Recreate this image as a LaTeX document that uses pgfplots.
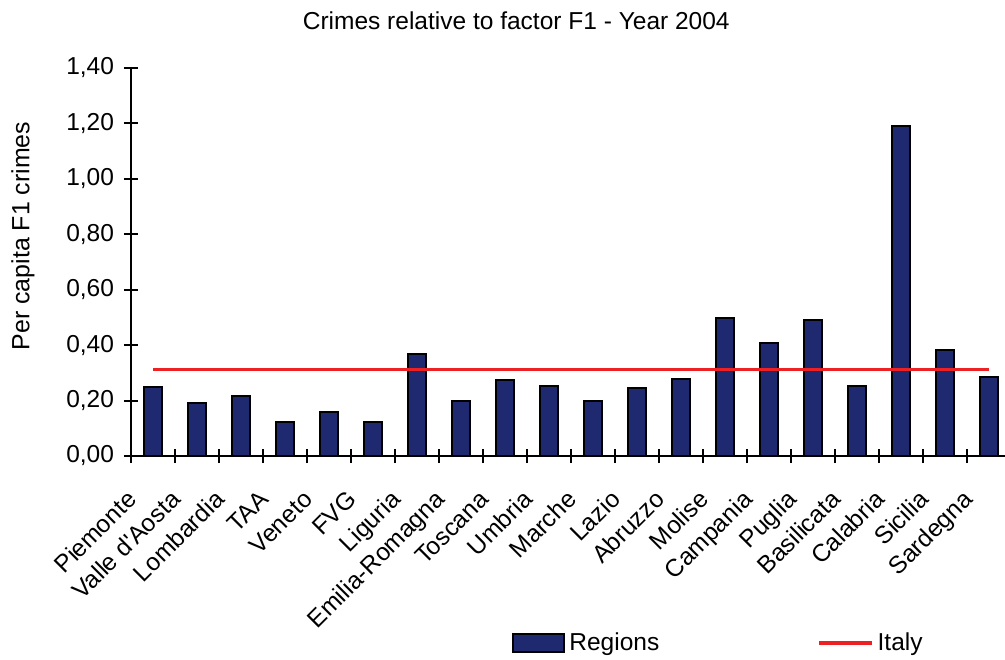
\documentclass[border=0pt]{standalone}
\usepackage{pgfplots}
\pgfplotsset{compat=1.18}
\usepackage{fontspec}
\setmainfont{Liberation Sans}
\definecolor{barblue}{RGB}{31,41,112}
\definecolor{italyred}{RGB}{237,32,36}
\pgfplotsset{
  barlegend/.style={legend image code/.code={\draw[##1] (0bp,-4.5bp) rectangle (25.5bp,4.5bp);}},
  linelegend/.style={legend image code/.code={\draw[##1] (0bp,0bp) -- (26.5bp,0bp);}},
}
\begin{document}
\begin{tikzpicture}
\path[use as bounding box] (-65.5bp,-102bp) rectangle (437bp,228bp);
\begin{axis}[
  scale only axis, width=437.8bp, height=194bp,
  xmin=-0.5, xmax=19.4, ymin=0, ymax=1.4,
  axis x line=bottom, axis y line=left,
  axis line style={-, line width=1bp, black},
  font=\fontsize{12.3}{14}\selectfont,
  xtick={0,...,19},
  xticklabels={Piemonte, Valle d\textquotesingle Aosta, Lombardia, TAA, Veneto, FVG, Liguria, Emilia-Romagna, Toscana, Umbria, Marche, Lazio, Abruzzo, Molise, Campania, Puglia, Basilicata, Calabria, Sicilia, Sardegna},
  minor xtick={-0.5,0.5,...,18.5},
  major x tick style={draw=none},
  ytick={0,0.2,0.4,0.6,0.8,1.0,1.2,1.4},
  tick align=center,
  major tick length=7bp, minor tick length=7bp,
  tick style={black, line width=1bp},
  yticklabel style={/pgf/number format/.cd, fixed, fixed zerofill, precision=2, use comma, assume math mode=true, /tikz/.cd, xshift=-1.5bp},
  xticklabel style={xshift=-7.5bp, yshift=-19bp, rotate=45, anchor=base east, inner sep=0pt},
  title={Crimes relative to factor F1 - Year 2004},
  title style={at={(rel axis cs:0.44,1)}, anchor=base, yshift=13.5bp},
  ylabel={Per capita F1 crimes},
  ylabel style={at={(rel axis cs:-0.1233,0.567)}, anchor=center, font=\fontsize{12.5}{14}\selectfont},
  legend style={at={(rel axis cs:0.4351,-0.482)}, anchor=west, draw=none, fill=none, inner sep=0pt, legend columns=2,
    /tikz/every even column/.append style={column sep=77bp}},
]
\addplot[ybar, bar width=9bp, fill=barblue, draw=black, line width=1bp, barlegend]
  coordinates {
  (0,0.250) (1,0.192) (2,0.218) (3,0.124) (4,0.158) (5,0.124) (6,0.368) (7,0.198)
  (8,0.274) (9,0.253) (10,0.198) (11,0.247) (12,0.279) (13,0.497) (14,0.409)
  (15,0.491) (16,0.253) (17,1.191) (18,0.383) (19,0.286)
  };
\addlegendentry{Regions}
\addplot[italyred, line width=1.7bp, linelegend]
  coordinates {(0,0.313) (19,0.313)};
\addlegendentry{Italy}
\end{axis}
\end{tikzpicture}
\end{document}
